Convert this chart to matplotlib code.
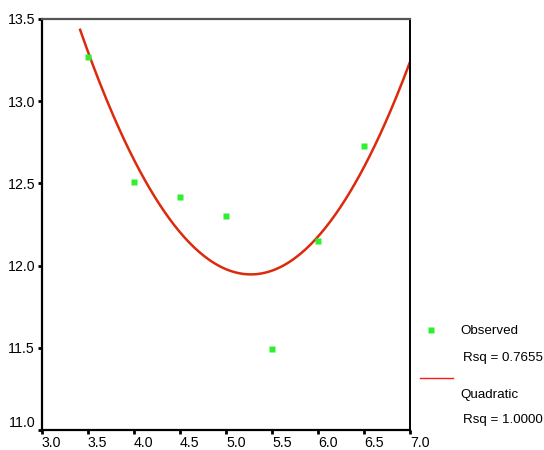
import numpy as np
import matplotlib
matplotlib.use("Agg")
import matplotlib.pyplot as plt
from matplotlib.lines import Line2D

plt.rcParams['font.family'] = ['Liberation Sans', 'DejaVu Sans']
FS_TICK = 10.2
FS_LEG = 9.6

# Observed data
x_obs = [3.5, 4.0, 4.5, 5.0, 5.5, 6.0, 6.5]
y_obs = [13.27, 12.51, 12.42, 12.30, 11.49, 12.15, 12.73]

# Fit range of the quadratic curve
fit_x_start = 3.41
fit_x_end = 7.0

x_ticks = [3.0, 3.5, 4.0, 4.5, 5.0, 5.5, 6.0, 6.5, 7.0]
y_ticks = [11.0, 11.5, 12.0, 12.5, 13.0, 13.5]

legend_labels = ["Observed", "Rsq = 0.7655", "Quadratic", "Rsq = 1.0000"]

W, H = 544, 450
fig = plt.figure(figsize=(W / 100, H / 100), dpi=100)
ax = fig.add_axes([42 / W, 1 - 430 / H, (410 - 42) / W, (430 - 19) / H])

coef = np.polyfit(x_obs, y_obs, 2)
xf = np.linspace(fit_x_start, fit_x_end, 200)
yf = np.polyval(coef, xf)

ax.plot(xf, yf, color='#dc2a0c', lw=1.8, zorder=2, solid_capstyle='butt')
ax.plot(x_obs, y_obs, 's', color='#2ef02e', ms=5, mec='none', zorder=3)

ax.set_xlim(3.0, 7.0)
ax.set_ylim(11.0, 13.5)
ax.set_xticks(x_ticks)
ax.set_yticks(y_ticks)
ax.set_xticklabels([f"{v:.1f}" for v in x_ticks], fontsize=FS_TICK)
ax.set_yticklabels([f"{v:.1f}" for v in y_ticks], fontsize=FS_TICK)
for lbl in ax.get_xticklabels():
    lbl.set_horizontalalignment('left')
yl = ax.get_yticklabels()
yl[0].set_verticalalignment('bottom')
ax.tick_params(axis='both', direction='out', length=3, width=2, color='black', pad=1.0)
ax.tick_params(axis='y', pad=2)

for s in ['left', 'bottom']:
    ax.spines[s].set_color('black')
    ax.spines[s].set_linewidth(1.6)
ax.spines['right'].set_color('black')
ax.spines['right'].set_linewidth(1.4)
ax.spines['top'].set_color('#555555')
ax.spines['top'].set_linewidth(1.6)

# Legend (manual, in figure pixels)
def fx(px):
    return px / W

def fy(py):
    return 1 - py / H

fig.add_artist(Line2D([fx(431)], [fy(330)], marker='s', color='#2ef02e', ms=5, mec='none',
                      transform=fig.transFigure))
fig.add_artist(Line2D([fx(420), fx(453)], [fy(378), fy(378)], color='#ff1a1a', lw=1.0,
                      transform=fig.transFigure))
fig.text(fx(460), fy(331), legend_labels[0], fontsize=FS_LEG, va='center', ha='left')
fig.text(fx(463), fy(358), legend_labels[1], fontsize=FS_LEG, va='center', ha='left')
fig.text(fx(460), fy(395), legend_labels[2], fontsize=FS_LEG, va='center', ha='left')
fig.text(fx(463), fy(420), legend_labels[3], fontsize=FS_LEG, va='center', ha='left')

fig.savefig("out.png", dpi=100)
